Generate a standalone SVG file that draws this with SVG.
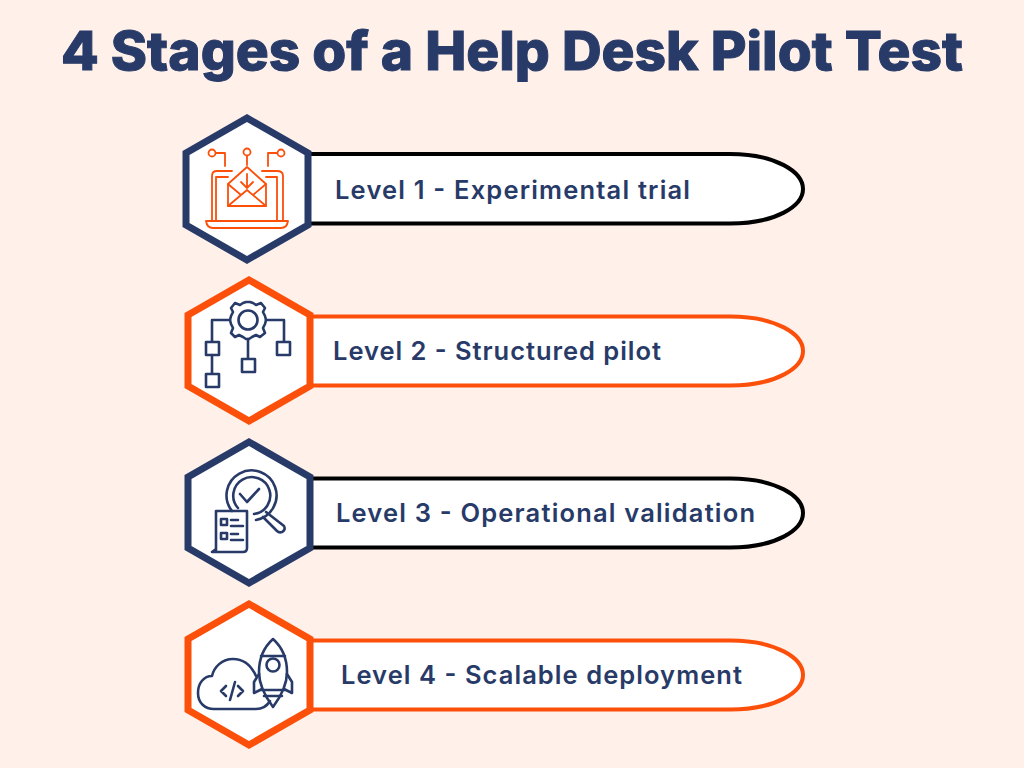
<svg xmlns="http://www.w3.org/2000/svg" width="1024" height="768" viewBox="0 0 1024 768">
<style>
.hex{fill:#fff;stroke-width:7;stroke-linejoin:miter}
.navy{stroke:#283b68}.or{stroke:#fb4f0a}.blk{stroke:#000}
.pill{fill:#fff;stroke-width:4}
.i{fill:none;stroke-linejoin:round;stroke-linecap:round}
.io{stroke-width:1.800}.in{stroke-width:2.600}
.lab{font-family:"Inter","Liberation Sans",sans-serif;font-weight:600;font-size:25.500px;fill:#283b68}
.title{font-family:"Inter","Liberation Sans",sans-serif;font-weight:800;font-size:54px;fill:#283b68;stroke:#283b68;stroke-width:1}
</style>
<rect width="1024" height="768" fill="#fff0ea"/>
<text id="title" class="title" x="61" y="70" textLength="902" lengthAdjust="spacingAndGlyphs">4 Stages of a Help Desk Pilot Test</text>
<g id="connectors">
<path class="pill blk" d="M308 154H730C776 154 803 172 803 189C803 206 776 223.500 730 223.500H308"/>
<path class="pill or" d="M310 316.500H730C776 316.500 803 334 803 351C803 368 776 385.500 730 385.500H310"/>
<path class="pill blk" d="M310 478.500H730C776 478.500 803 496 803 513C803 530 776 547.500 730 547.500H310"/>
<path class="pill or" d="M310 640.500H730C776 640.500 803 658 803 675C803 692 776 709.500 730 709.500H310"/>
</g>
<g id="node1">
<polygon class="hex navy" points="247,118 308,153 308,225 247,260 186,225 186,153"/>
<g class="i or io">
<circle cx="212" cy="153" r="3.500"/><circle cx="247" cy="152" r="3.500"/><circle cx="281" cy="153" r="3.500"/>
<path d="M216 153H225V166M247 156V165M277 153H268V166"/>
<path d="M212 221V176Q212 171 217 171H232M262 171H277Q283 171 283 176V221"/>
<path d="M216 221V177H228M266 177H277V221"/>
<path d="M206 221H288Q287 228 281 228H213Q207 228 206 221Z"/>
<path d="M228 184L247 167L266 184V206H228Z"/>
<path d="M228 184L241 195M266 184L253 195M228 206L247 190L266 206"/>
<path d="M247 174V188M241 182L247 188L253 182"/>
</g>
</g>
<g id="node2">
<polygon class="hex or" points="249,280 310,315 310,386 249,421 188,386 188,315"/>
<g class="i navy in">
<circle cx="248" cy="320" r="9.500"/>
<path d="M243 303L246 302H250L253 303L256 305L261 303L265 308L263 312L265 316L266 320L265 324L263 328L265 333L260 337L256 335L252 337L249 339H246L243 337L239 335L235 337L231 333L233 328L231 324L230 320L231 316L233 312L231 308L235 303L240 305Z"/>
<path d="M230 320H212V341M266 320H284V341M248 339V358M212 355V373"/>
<rect x="206" y="342" width="13" height="13"/><rect x="277" y="342" width="13" height="13"/><rect x="242" y="359" width="13" height="13"/><rect x="206" y="374" width="13" height="13"/>
</g>
</g>
<g id="node3">
<polygon class="hex navy" points="249,442 310,477 310,548 249,583 188,548 188,477"/>
<g class="i navy in">
<path d="M232 511A25 25 0 1 1 256 520M238 508A18.500 18.500 0 1 1 254 514"/>
<path d="M240 494L247 502L259 489"/>
<path d="M266 512L284 526Q286 530 282 532Q279 533 277 531L263 517"/>
<path d="M216 552V511H247V548Q247 552 243 552ZM212 552H243M212 552L216 549"/>
<rect x="221" y="519" width="6" height="6"/><rect x="221" y="533" width="6" height="6"/>
<path d="M231 520H238M231 526H243M231 534H238M231 540H243"/>
</g>
</g>
<g id="node4">
<polygon class="hex or" points="249,604 310,639 310,710 249,745 188,710 188,639"/>
<g class="i navy in">
<path d="M256 676C251 665 243 659 233 659C222 659 214 667 212 676C204 676 198 683 198 693C198 703 205 709 214 709H256C262 709 267 706 270 701"/>
<path d="M226 686L221 691L226 696M238 686L243 691L238 696M235 682L230 700"/>
<path d="M273 639C263 648 259 660 259 672C259 683 264 695 273 707C282 695 287 683 287 672C287 660 283 648 273 639Z"/>
<path d="M261 656H285M261 690H285M264 696H282"/>
<circle cx="273" cy="665" r="6.500"/>
<path d="M259 674L254 682L254 693L262 689M287 674L292 682L292 693L284 689"/>
</g>
</g>
<text class="lab" x="335" y="199" textLength="355">Level 1 - Experimental trial</text>
<text class="lab" x="333" y="360" textLength="328">Level 2 - Structured pilot</text>
<text class="lab" x="336" y="522" textLength="419">Level 3 - Operational validation</text>
<text class="lab" x="341" y="684" textLength="401">Level 4 - Scalable deployment</text>
</svg>
